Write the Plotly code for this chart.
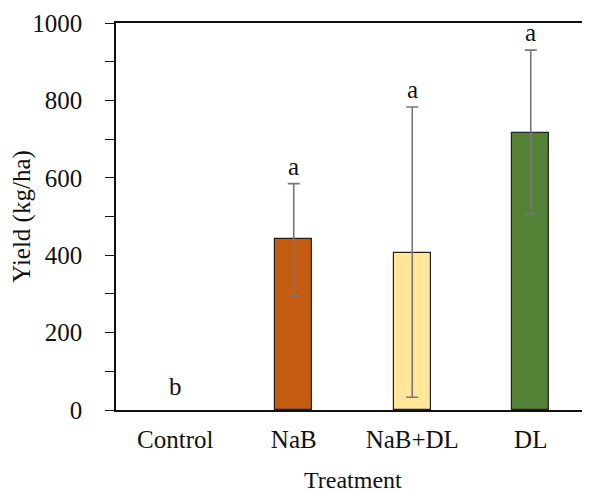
import plotly.graph_objects as go

treatments = ["Control", "NaB", "NaB+DL", "DL"]
yield_mean = [0, 442, 406, 717]
err_plus = [None, 143, 377, 213]
err_minus = [None, 147, 373, 210]
letters = ["b", "a", "a", "a"]
bar_colors = ["#FFFFFF", "#C55A11", "#FFE699", "#538135"]
y_ticks = [0, 200, 400, 600, 800, 1000]

FONT = "Liberation Serif, Times New Roman, serif"
FS = 25

fig = go.Figure()
fig.add_trace(go.Bar(
    x=treatments, y=yield_mean, width=0.31,
    marker=dict(color=bar_colors,
                opacity=[0 if v == 0 else 1 for v in yield_mean],
                line=dict(color="#222222", width=[0 if v == 0 else 1.2 for v in yield_mean])),
    showlegend=False,
))

# error bars only for treatments that have them
idx = [i for i, e in enumerate(err_plus) if e is not None]
fig.add_trace(go.Scatter(
    x=[treatments[i] for i in idx], y=[yield_mean[i] for i in idx],
    mode="markers", marker=dict(size=1, opacity=0),
    error_y=dict(type="data", array=[err_plus[i] for i in idx],
                 arrayminus=[err_minus[i] for i in idx],
                 color="#777777", thickness=1.6, width=6, visible=True),
    showlegend=False, hoverinfo="skip",
))

for t, m, e, l in zip(treatments, yield_mean, err_plus, letters):
    fig.add_annotation(x=t, y=m + (e or 0), text=l, showarrow=False,
                       yanchor="bottom", yshift=2 if m > 0 else 8,
                       font=dict(family=FONT, size=FS, color="#111111"))

fig.add_annotation(xref="paper", yref="paper", x=0.5, y=-0.18, yanchor="middle",
                   text="Treatment", showarrow=False,
                   font=dict(family=FONT, size=24, color="#111111"))

fig.update_layout(
    width=590, height=492,
    margin=dict(l=108, r=8, t=15, b=90),
    plot_bgcolor="white", paper_bgcolor="white",
    font=dict(family=FONT, size=FS, color="#111111"),
    bargap=0,
)
fig.update_xaxes(
    range=[-0.5, 3.5], showline=True, linecolor="#111111", linewidth=1.5,
    mirror=True, ticks="", showgrid=False, ticklabelstandoff=6, automargin=False,
    tickfont=dict(family=FONT, size=FS),
)
fig.update_yaxes(
    range=[0, 1000], tickvals=y_ticks, showline=True, linecolor="#111111",
    linewidth=1.5, ticks="outside", ticklen=9, tickwidth=1.3, tickcolor="#111111",
    minor=dict(dtick=100, ticks="outside", ticklen=9, tickwidth=1.3, tickcolor="#111111"),
    showgrid=False, zeroline=False, ticklabelstandoff=18, automargin=False,
    title=dict(text="Yield (kg/ha)", standoff=10, font=dict(family=FONT, size=FS)),
    tickfont=dict(family=FONT, size=FS),
)

fig.write_html("out.html")
